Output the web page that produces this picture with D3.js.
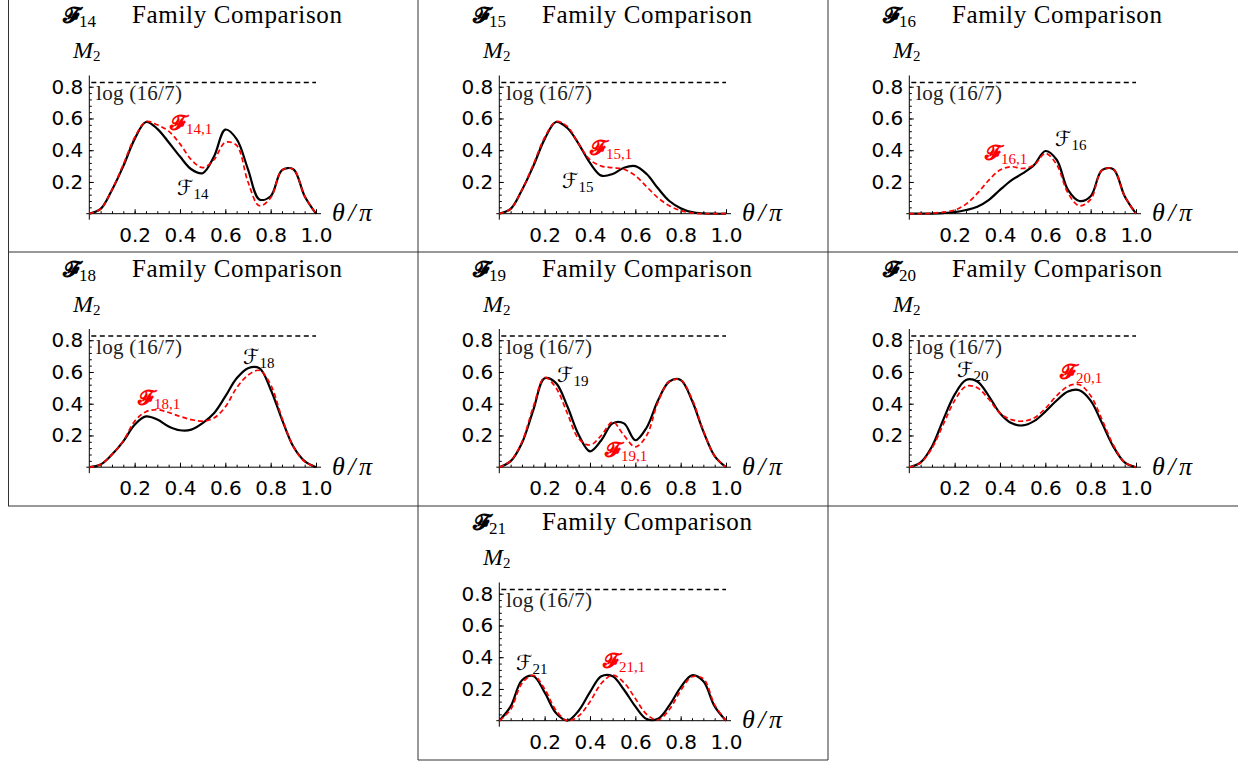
<!DOCTYPE html>
<html>
<head>
<meta charset="utf-8">
<script src="https://cdn.jsdelivr.net/npm/d3@7"></script>
<style>
  body { margin: 0; background: #fff; }
  svg { display: block; }
  .tick text { font-family: "DejaVu Sans", sans-serif; font-size: 20px; fill: #000; }
</style>
</head>
<body>
<svg id="chart" width="1238" height="761"></svg>
<script>
// shared theta/pi grid
const thetaGrid = [0, 0.05, 0.1, 0.15, 0.2, 0.25, 0.3, 0.35, 0.4, 0.45, 0.5,
  0.55, 0.6, 0.65, 0.7, 0.75, 0.8, 0.85, 0.9, 0.95, 1];

// M2 values (black = F_n, red = F_n,1)
const f14 = [0, 0.03, 0.15, 0.30, 0.47, 0.578, 0.535, 0.45, 0.36, 0.28, 0.255, 0.36, 0.53, 0.47, 0.28, 0.09, 0.11, 0.275, 0.28, 0.11, 0];
const f14r = [0, 0.03, 0.15, 0.31, 0.48, 0.58, 0.56, 0.52, 0.44, 0.34, 0.29, 0.34, 0.45, 0.43, 0.20, 0.05, 0.10, 0.275, 0.28, 0.11, 0];
const f15 = [0, 0.03, 0.15, 0.30, 0.47, 0.578, 0.54, 0.44, 0.32, 0.24, 0.25, 0.29, 0.30, 0.25, 0.16, 0.08, 0.035, 0.01, 0.002, 0, 0];
const f15r = [0, 0.03, 0.15, 0.31, 0.48, 0.58, 0.55, 0.44, 0.34, 0.30, 0.29, 0.28, 0.24, 0.17, 0.10, 0.05, 0.02, 0.005, 0, 0, 0];
const f16 = [0, 0, 0.001, 0.004, 0.01, 0.023, 0.044, 0.086, 0.15, 0.21, 0.254, 0.306, 0.395, 0.34, 0.15, 0.08, 0.11, 0.275, 0.28, 0.11, 0];
const f16r = [0, 0, 0.003, 0.01, 0.023, 0.06, 0.128, 0.21, 0.275, 0.296, 0.285, 0.306, 0.38, 0.31, 0.13, 0.05, 0.09, 0.275, 0.28, 0.11, 0];
const f18 = [0, 0.017, 0.08, 0.163, 0.268, 0.32, 0.30, 0.257, 0.233, 0.237, 0.278, 0.34, 0.446, 0.56, 0.624, 0.624, 0.49, 0.30, 0.13, 0.038, 0];
const f18r = [0, 0.017, 0.08, 0.165, 0.29, 0.35, 0.362, 0.345, 0.32, 0.30, 0.29, 0.31, 0.38, 0.50, 0.58, 0.61, 0.52, 0.31, 0.13, 0.035, 0];
const f19 = [0, 0.038, 0.153, 0.36, 0.56, 0.53, 0.384, 0.205, 0.10, 0.17, 0.276, 0.276, 0.17, 0.25, 0.42, 0.54, 0.55, 0.42, 0.226, 0.07, 0];
const f19r = [0, 0.04, 0.16, 0.38, 0.565, 0.50, 0.34, 0.18, 0.14, 0.20, 0.285, 0.20, 0.128, 0.20, 0.41, 0.54, 0.55, 0.43, 0.23, 0.07, 0];
const f20 = [0, 0.03, 0.13, 0.30, 0.457, 0.55, 0.54, 0.45, 0.34, 0.278, 0.263, 0.29, 0.35, 0.42, 0.477, 0.485, 0.42, 0.278, 0.13, 0.03, 0];
const f20r = [0, 0.028, 0.12, 0.27, 0.42, 0.51, 0.50, 0.43, 0.34, 0.30, 0.29, 0.31, 0.37, 0.45, 0.51, 0.52, 0.45, 0.30, 0.14, 0.03, 0];
const f21 = [0, 0.09, 0.255, 0.282, 0.178, 0.048, 0.001, 0.063, 0.18, 0.28, 0.28, 0.195, 0.09, 0.01, 0.012, 0.096, 0.21, 0.286, 0.248, 0.09, 0];
const f21r = [0, 0.07, 0.235, 0.286, 0.20, 0.065, 0, 0.03, 0.12, 0.235, 0.287, 0.24, 0.14, 0.04, 0.005, 0.07, 0.19, 0.277, 0.265, 0.10, 0];

const xTicks = [0.2, 0.4, 0.6, 0.8, 1.0];
const yTicks = [0.2, 0.4, 0.6, 0.8];
const refLevel = Math.log(16 / 7); // log(16/7) dashed line

// panel layout
const panelW = 410, panelH = 253.5, left0 = 8;
const panels = [
  { n: "14", col: 0, row: 0, black: f14, red: f14r, bl: [169, 195], rl: [162, 130] },
  { n: "15", col: 1, row: 0, black: f15, red: f15r, bl: [144, 188], rl: [172, 155] },
  { n: "16", col: 2, row: 0, black: f16, red: f16r, bl: [227, 146], rl: [157, 160] },
  { n: "18", col: 0, row: 1, black: f18, red: f18r, bl: [235, 110], rl: [130, 151] },
  { n: "19", col: 1, row: 1, black: f19, red: f19r, bl: [139, 128], rl: [187, 203] },
  { n: "20", col: 2, row: 1, black: f20, red: f20r, bl: [129, 123], rl: [232, 125] },
  { n: "21", col: 1, row: 2, black: f21, red: f21r, bl: [98, 163], rl: [185, 161] },
];

const serifFont = '"Liberation Serif", "DejaVu Serif", serif';
const svg = d3.select("#chart");

// cell borders
const borders = svg.append("g").attr("stroke", "#333").attr("stroke-width", 1);
[[8.5, 0, 8.5, 506], [418, 0, 418, 760], [828, 0, 828, 760],
 [8, 252, 1238, 252], [8, 506, 1238, 506], [418, 760, 828, 760]].forEach(([x1, y1, x2, y2]) => {
  borders.append("line").attr("x1", x1).attr("y1", y1).attr("x2", x2).attr("y2", y2);
});

// scales (panel-local)
const x = d3.scaleLinear().domain([0, 1]).range([81.3, 308]);
const y = d3.scaleLinear().domain([0, refLevel]).range([213.7, 82.5]);

const line = d3.line()
  .x((d) => x(d[0]))
  .y((d) => y(Math.max(0, d[1])))
  .curve(d3.curveCatmullRom.alpha(0.5));

const boldScriptF = "\u{1D4D5}";
const scriptF = "\u2131";

function addLabel(g, px, py, glyph, sub, color, bold) {
  const t = g.append("text").style("font-family", serifFont)
    .attr("x", px).attr("y", py).attr("fill", color);
  t.append("tspan").style("font-size", "21px")
    .style("font-family", bold ? serifFont : '"DejaVu Serif", "DejaVu Sans", serif')
    .style("font-weight", bold ? "bold" : "normal").text(glyph);
  t.append("tspan").attr("dy", 4).style("font-size", "15px").text(sub);
}

panels.forEach((p) => {
  const g = svg.append("g")
    .attr("transform", `translate(${left0 + p.col * panelW},${p.row * panelH})`);

  // title
  const title = g.append("text").style("font-family", serifFont).attr("x", 55).attr("y", 23);
  title.append("tspan").style("font-size", "22px").style("font-weight", "bold").text(boldScriptF);
  title.append("tspan").attr("dy", 4).style("font-size", "17px").text(p.n);
  g.append("text").style("font-family", serifFont).attr("x", 124).attr("y", 23)
    .style("font-size", "25px").attr("textLength", 210).attr("lengthAdjust", "spacing")
    .text("Family Comparison");

  // y label M2
  const ml = g.append("text").style("font-family", serifFont).attr("x", 65).attr("y", 58);
  ml.append("tspan").style("font-size", "24px").style("font-style", "italic").text("M");
  ml.append("tspan").attr("dy", 3).style("font-size", "15px").text("2");

  // minor ticks
  g.append("g").attr("transform", `translate(0,${y(0)})`)
    .call(d3.axisBottom(x).tickValues(d3.range(0.05, 1.001, 0.05)).tickSize(-2.5).tickFormat(""))
    .call((a) => a.select(".domain").remove());
  g.append("g").attr("transform", `translate(${x(0)},0)`)
    .call(d3.axisLeft(y).tickValues(d3.range(0.04, 0.83, 0.04)).tickSize(-2.5).tickFormat(""))
    .call((a) => a.select(".domain").remove());

  // major ticks + labels
  g.append("g").attr("transform", `translate(0,${y(0)})`)
    .call(d3.axisBottom(x).tickValues(xTicks).tickSize(-4.5).tickPadding(14).tickFormat(d3.format(".1f")))
    .call((a) => a.select(".domain").remove());
  g.append("g").attr("transform", `translate(${x(0)},0)`)
    .call(d3.axisLeft(y).tickValues(yTicks).tickSize(-4.5).tickPadding(6).tickFormat(d3.format(".1f")))
    .call((a) => a.select(".domain").remove());

  // axis lines
  g.append("line").attr("x1", x(0) - 3).attr("x2", x(1) + 5)
    .attr("y1", y(0)).attr("y2", y(0)).attr("stroke", "#000").attr("stroke-width", 1);
  g.append("line").attr("x1", x(0)).attr("x2", x(0))
    .attr("y1", y(0) + 6).attr("y2", y(refLevel) - 7).attr("stroke", "#000").attr("stroke-width", 1);

  // x axis label
  g.append("text").style("font-family", serifFont).attr("x", 324).attr("y", 221)
    .style("font-size", "26px").style("font-style", "italic")
    .attr("textLength", 40).attr("lengthAdjust", "spacing").text("θ/π");

  // log(16/7) reference
  g.append("line").attr("x1", x(0) + 2).attr("x2", x(1))
    .attr("y1", y(refLevel)).attr("y2", y(refLevel))
    .attr("stroke", "#000").attr("stroke-width", 1.6).attr("stroke-dasharray", "5,3.5");
  g.append("text").style("font-family", serifFont).attr("x", 88).attr("y", 100)
    .style("font-size", "21px").attr("fill", "#222")
    .attr("textLength", 86).attr("lengthAdjust", "spacing").text("log (16/7)");

  // curves
  g.append("path").datum(thetaGrid.map((t, i) => [t, p.black[i]]))
    .attr("d", line).attr("fill", "none").attr("stroke", "#000").attr("stroke-width", 2.2);
  g.append("path").datum(thetaGrid.map((t, i) => [t, p.red[i]]))
    .attr("d", line).attr("fill", "none").attr("stroke", "#ff0000")
    .attr("stroke-width", 1.7).attr("stroke-dasharray", "5,3");

  // curve labels
  addLabel(g, p.bl[0], p.bl[1], scriptF, p.n, "#000", false);
  addLabel(g, p.rl[0], p.rl[1], boldScriptF, p.n + ",1", "#ff0000", true);
});
</script>
</body>
</html>
